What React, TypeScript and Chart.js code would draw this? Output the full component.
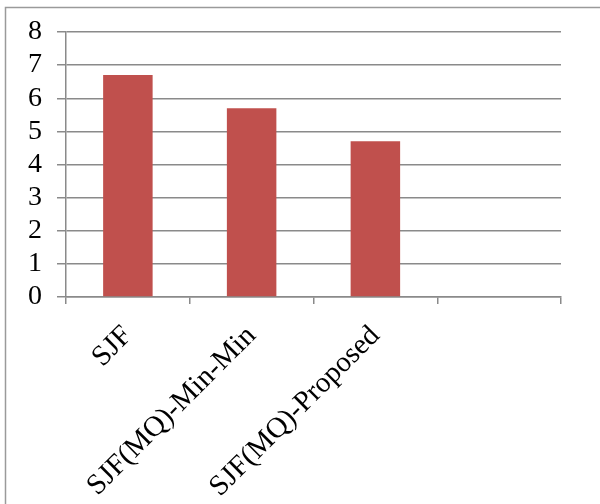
import React, { useEffect, useRef } from "react";
import { Chart, registerables } from "chart.js";

Chart.register(...registerables);

const categories = ["SJF", "SJF(MQ)-Min-Min", "SJF(MQ)-Proposed", ""];
const values = [6.7, 5.7, 4.7, null];
const yTicks = [0, 1, 2, 3, 4, 5, 6, 7, 8];

const frame = {
  id: "frame",
  beforeDraw(chart: any) {
    const ctx = chart.ctx;
    ctx.save();
    ctx.fillStyle = "#ffffff";
    ctx.fillRect(0, 0, chart.width, chart.height);
    ctx.strokeStyle = "#9a9a9a";
    ctx.lineWidth = 1.5;
    ctx.beginPath();
    ctx.moveTo(5.5, chart.height);
    ctx.lineTo(5.5, 7.5);
    ctx.lineTo(chart.width, 7.5);
    ctx.stroke();
    ctx.restore();
  },
};

export default function App() {
  const ref = useRef<HTMLCanvasElement>(null);
  useEffect(() => {
    if (!ref.current) return;
    const chart = new Chart(ref.current, {
      type: "bar",
      data: {
        labels: categories,
        datasets: [
          {
            data: values as any,
            backgroundColor: "#C0504D",
            borderWidth: 0,
            categoryPercentage: 1,
            barPercentage: 0.4,
          },
        ],
      },
      options: {
        animation: false,
        responsive: false,
        maintainAspectRatio: false,
        layout: { padding: { left: 0, top: 32, right: 39, bottom: 0 } },
        plugins: { legend: { display: false }, tooltip: { enabled: false } },
        scales: {
          x: {
            offset: true,
            grid: {
              offset: true,
              drawOnChartArea: false,
              drawTicks: true,
              tickLength: 7,
              color: "#8a8a8a",
              lineWidth: 1.5,
            },
            border: { display: true, color: "#8a8a8a", width: 1.5 },
            ticks: {
              autoSkip: false,
              minRotation: 45,
              maxRotation: 45,
              padding: 15,
              color: "#000",
              font: { family: "'Liberation Serif', 'Times New Roman', serif", size: 29 },
            },
            afterFit(scale: any) {
              scale.height = 207;
            },
          },
          y: {
            min: 0,
            max: 8,
            afterBuildTicks(scale: any) {
              scale.ticks = yTicks.map((v) => ({ value: v }));
            },
            grid: {
              color: "#8a8a8a",
              lineWidth: 1.5,
              tickLength: 9,
            },
            border: { display: true, color: "#8a8a8a", width: 1.5 },
            ticks: {
              autoSkip: false,
              padding: 15,
              color: "#000",
              font: { family: "'Liberation Serif', 'Times New Roman', serif", size: 28 },
            },
            afterFit(scale: any) {
              scale.width = 66;
            },
          },
        },
      },
      plugins: [frame],
    });
    return () => chart.destroy();
  }, []);
  return (
    <div style={{ position: "absolute", left: 0, top: 0, width: 600, height: 504 }}>
      <canvas ref={ref} width={600} height={504} style={{ width: 600, height: 504, display: "block" }} />
    </div>
  );
}
